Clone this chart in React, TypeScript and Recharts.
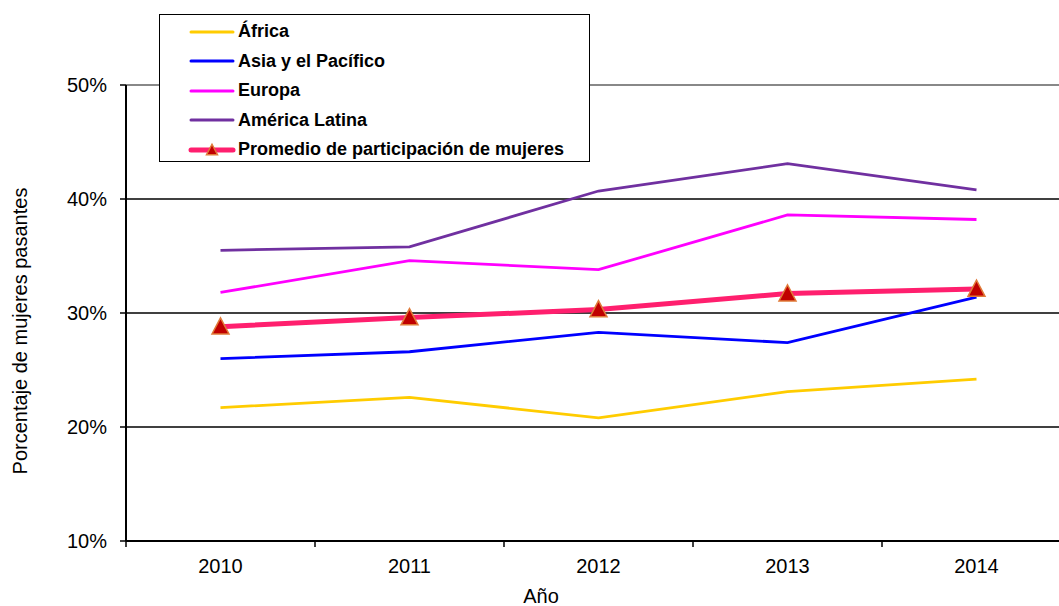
import React from 'react';
import {
  LineChart,
  Line,
  XAxis,
  YAxis,
  Legend,
  ReferenceLine,
  Label
} from "recharts";

const FONT = '"Liberation Sans", Arial, sans-serif';

const years = [2010, 2011, 2012, 2013, 2014];
const africa = [21.7, 22.6, 20.8, 23.1, 24.2];
const asiaPacifico = [26.0, 26.6, 28.3, 27.4, 31.4];
const europa = [31.8, 34.6, 33.8, 38.6, 38.2];
const americaLatina = [35.5, 35.8, 40.7, 43.1, 40.8];
const promedio = [28.8, 29.6, 30.3, 31.7, 32.1];

const yTicks = [10, 20, 30, 40, 50];
// category boundaries get tick marks, year centres get labels
const xTicks = [2009.5, 2010, 2010.5, 2011, 2011.5, 2012, 2012.5, 2013, 2013.5, 2014, 2014.5];

const SERIES = [
  { key: "africa", name: "África", color: "#FFCC00", width: 2.8 },
  { key: "asia", name: "Asia y el Pacífico", color: "#0000FF", width: 2.8 },
  { key: "europa", name: "Europa", color: "#FF00FF", width: 2.8 },
  { key: "latina", name: "América Latina", color: "#7030A0", width: 2.8 },
  { key: "promedio", name: "Promedio de participación de mujeres", color: "#FF1F6E", width: 5 },
];

const data = years.map((year, i) => ({
  year,
  africa: africa[i],
  asia: asiaPacifico[i],
  europa: europa[i],
  latina: americaLatina[i],
  promedio: promedio[i],
}));

const Triangle = ({ cx, cy, size = 17 }: { cx: number; cy: number; size?: number }) => {
  const h = size * 0.95;
  const pts = `${cx},${cy - h * 0.55} ${cx + size / 2},${cy + h * 0.45} ${cx - size / 2},${cy + h * 0.45}`;
  return <polygon points={pts} fill="#C00000" stroke="#E07B39" strokeWidth={1.5} strokeLinejoin="miter" />;
};

const YearTick = (props: any) => {
  const { x, y, payload } = props;
  const v = payload.value;
  if (Number.isInteger(v)) {
    return (
      <text x={x} y={y + 32} textAnchor="middle" fontSize={20} fontFamily={FONT} fill="#000">
        {v}
      </text>
    );
  }
  return <line x1={x} x2={x} y1={y} y2={y + 6} stroke="#000" strokeWidth={1.5} />;
};

const LegendBox = ({ payload }: any) => {
  const order = (name: string) => SERIES.findIndex(s => s.name === name);
  const items = [...(payload || [])].sort((a: any, b: any) => order(a.value) - order(b.value));
  return (
    <div
      style={{
        width: 431,
        height: 148,
        border: '1.5px solid #000',
        background: '#fff',
        boxSizing: 'border-box',
        paddingTop: 2,
        fontFamily: FONT,
      }}
    >
      {items.map((entry: any) => {
        const isAvg = entry.value === SERIES[4].name;
        return (
          <div key={entry.value} style={{ display: 'flex', alignItems: 'center', height: 29.5 }}>
            <svg width={80} height={20} style={{ flex: 'none' }}>
              <line x1={31} x2={73} y1={10} y2={10} stroke={entry.color} strokeWidth={isAvg ? 5 : 3} strokeLinecap="round" />
              {isAvg && <Triangle cx={52} cy={10} size={11} />}
            </svg>
            <span style={{ fontSize: 18, fontWeight: 'bold', color: '#000', marginLeft: -2 }}>{entry.value}</span>
          </div>
        );
      })}
    </div>
  );
};

export default function App() {
  return (
    <div style={{ position: 'fixed', left: 0, top: 0, width: 1059, height: 606, overflow: 'hidden', background: '#fff' }}>
      <LineChart
        width={1100}
        height={606}
        data={data}
        margin={{ top: 85, right: 29, left: 60, bottom: 5 }}
      >
        <XAxis
          dataKey="year"
          type="number"
          domain={[2009.5, 2014.5]}
          ticks={xTicks}
          interval={0}
          height={60}
          tickLine={false}
          tickSize={0}
          tickMargin={0}
          tick={<YearTick />}
          axisLine={{ stroke: '#000', strokeWidth: 2 }}
        >
          <Label
            content={() => (
              <text x={541} y={603} textAnchor="middle" fontSize={20} fontFamily={FONT} fill="#000">Año</text>
            )}
          />
        </XAxis>
        <YAxis
          type="number"
          domain={[10, 50]}
          ticks={yTicks}
          width={66}
          tickFormatter={(v) => `${v}%`}
          tickSize={6}
          tickMargin={13}
          tick={{ fill: '#000', fontSize: 20, fontFamily: FONT }}
          tickLine={{ stroke: '#000', strokeWidth: 1.5 }}
          axisLine={{ stroke: '#000', strokeWidth: 2 }}
        >
          <Label
            content={() => (
              <text
                x={27}
                y={331}
                transform="rotate(-90 27 331)"
                textAnchor="middle"
                fontSize={20}
                fontFamily={FONT}
                fill="#000"
              >
                Porcentaje de mujeres pasantes
              </text>
            )}
          />
        </YAxis>
        {[20, 30, 40].map(v => (
          <ReferenceLine key={v} y={v} stroke="#000" strokeWidth={1.5} />
        ))}
        <ReferenceLine y={50} stroke="#888" strokeWidth={2} />
        <Legend
          layout="horizontal"
          verticalAlign="middle"
          align="center"
          wrapperStyle={{ left: 159, top: 14, width: 'auto' }}
          content={<LegendBox />}
        />
        {SERIES.filter(s => s.key !== "promedio").map(s => (
          <Line
            key={s.key}
            dataKey={s.key}
            name={s.name}
            stroke={s.color}
            strokeWidth={s.width}
            dot={false}
            activeDot={false}
            isAnimationActive={false}
          />
        ))}
        <Line
          dataKey="promedio"
          name={SERIES[4].name}
          stroke={SERIES[4].color}
          strokeWidth={5}
          dot={(p: any) => <Triangle key={`tri-${p.index}`} cx={p.cx} cy={p.cy} />}
          activeDot={false}
          isAnimationActive={false}
        />
      </LineChart>
    </div>
  );
}
